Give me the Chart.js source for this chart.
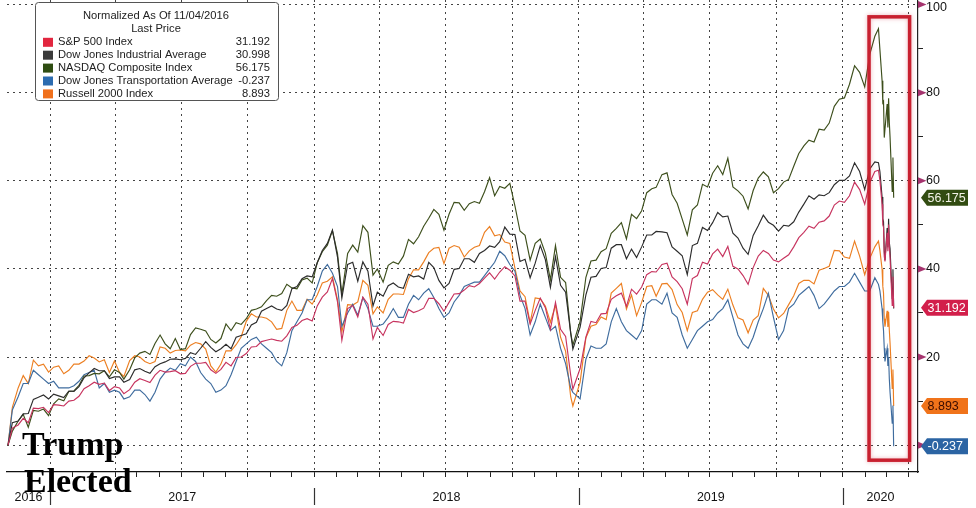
<!DOCTYPE html>
<html lang="en">
<head>
  <meta charset="UTF-8">
  <title>Normalized As Of 11/04/2016</title>
  <script src="https://cdn.jsdelivr.net/npm/chart.js"></script>
  <style>
    * { margin: 0; padding: 0; box-sizing: border-box; }
    body { background: #fff; width: 976px; height: 508px; overflow: hidden; }
    canvas { display: block; }
  </style>
</head>
<body>
  <canvas id="chart" width="976" height="508"></canvas>

  <script>
    // weekly sample dates, daily through the Feb/Mar 2020 selloff
    const dates = [
      '2016-11-04','2016-11-10','2016-11-18','2016-11-25','2016-12-02','2016-12-09','2016-12-16','2016-12-23','2016-12-30',
      '2017-01-06','2017-01-13','2017-01-20','2017-01-27','2017-02-03','2017-02-10','2017-02-17','2017-02-24','2017-03-03','2017-03-10','2017-03-17','2017-03-24','2017-03-31',
      '2017-04-07','2017-04-13','2017-04-21','2017-04-28','2017-05-05','2017-05-12','2017-05-19','2017-05-26','2017-06-02','2017-06-09','2017-06-16','2017-06-23','2017-06-30',
      '2017-07-07','2017-07-14','2017-07-21','2017-07-28','2017-08-04','2017-08-11','2017-08-18','2017-08-25','2017-09-01','2017-09-08','2017-09-15','2017-09-22','2017-09-29',
      '2017-10-06','2017-10-13','2017-10-20','2017-10-27','2017-11-03','2017-11-10','2017-11-17','2017-11-24','2017-12-01','2017-12-08','2017-12-15','2017-12-22','2017-12-29',
      '2018-01-05','2018-01-12','2018-01-19','2018-01-26','2018-02-02','2018-02-08','2018-02-16','2018-02-23','2018-03-02','2018-03-09','2018-03-16','2018-03-23','2018-03-29',
      '2018-04-06','2018-04-13','2018-04-20','2018-04-27','2018-05-04','2018-05-11','2018-05-18','2018-05-25','2018-06-01','2018-06-08','2018-06-15','2018-06-22','2018-06-29',
      '2018-07-06','2018-07-13','2018-07-20','2018-07-27','2018-08-03','2018-08-10','2018-08-17','2018-08-24','2018-08-31','2018-09-07','2018-09-14','2018-09-21','2018-09-28',
      '2018-10-05','2018-10-12','2018-10-19','2018-10-26','2018-11-02','2018-11-09','2018-11-16','2018-11-23','2018-11-30','2018-12-07','2018-12-14','2018-12-21','2018-12-24',
      '2019-01-03','2019-01-11','2019-01-18','2019-01-25','2019-02-01','2019-02-08','2019-02-15','2019-02-22','2019-03-01','2019-03-08','2019-03-15','2019-03-22','2019-03-29',
      '2019-04-05','2019-04-12','2019-04-18','2019-04-26','2019-05-03','2019-05-10','2019-05-17','2019-05-24','2019-05-31','2019-06-07','2019-06-14','2019-06-21','2019-06-28',
      '2019-07-05','2019-07-12','2019-07-19','2019-07-26','2019-08-02','2019-08-09','2019-08-16','2019-08-23','2019-08-30','2019-09-06','2019-09-13','2019-09-20','2019-09-27',
      '2019-10-04','2019-10-11','2019-10-18','2019-10-25','2019-11-01','2019-11-08','2019-11-15','2019-11-22','2019-11-29','2019-12-06','2019-12-13','2019-12-20','2019-12-27',
      '2020-01-03','2020-01-10','2020-01-17','2020-01-24','2020-01-31','2020-02-07','2020-02-14','2020-02-19','2020-02-21','2020-02-24','2020-02-25','2020-02-26','2020-02-27',
      '2020-02-28','2020-03-02','2020-03-03','2020-03-04','2020-03-05','2020-03-06','2020-03-09','2020-03-10','2020-03-11'
    ];

    // % change since 11/04/2016
    const spx = [
      0, 3.9, 4.6, 6.1, 5.1, 8.4, 8.3, 8.6, 7.4,
      9.2, 9.1, 8.9, 10.0, 10.2, 11.1, 12.8, 13.5, 14.3, 13.8, 14.1, 12.4, 13.3, 13.0, 11.7, 12.6, 14.3, 15.1, 14.7, 14.2, 15.9, 17.0, 16.6, 16.7, 16.9, 16.2,
      16.3, 17.9, 18.6, 18.6, 18.8, 17.1, 16.3, 17.2, 18.8, 18.0, 19.9, 20.0, 20.8, 22.3, 22.4, 23.5, 23.8, 24.1, 23.8, 23.6, 24.8, 26.7, 27.2, 28.3, 28.7, 28.2,
      31.6, 33.6, 34.8, 37.8, 32.5, 23.8, 31.0, 31.7, 29.1, 33.6, 32.0, 24.1, 26.7, 24.9, 27.4, 28.1, 28.0, 27.7, 30.8, 30.1, 30.5, 31.1, 33.3, 33.3, 32.1, 30.4,
      32.4, 34.3, 34.4, 35.2, 36.2, 35.9, 36.7, 37.9, 39.1, 37.7, 39.3, 40.5, 39.7, 38.4, 32.7, 32.7, 27.5, 30.6, 33.4, 31.2, 26.3, 32.4, 26.3, 24.7, 15.9, 12.7,
      17.4, 24.5, 28.1, 27.8, 29.8, 29.9, 33.1, 33.9, 34.5, 31.5, 35.4, 34.3, 35.9, 38.7, 39.4, 39.3, 41.0, 41.3, 38.2, 37.1, 35.5, 32.0, 37.8, 38.5, 41.5, 41.1,
      43.4, 44.5, 42.8, 45.1, 40.6, 40.0, 38.5, 36.5, 40.3, 42.9, 44.2, 43.5, 42.0, 41.6, 42.4, 43.2, 45.0, 47.1, 48.3, 49.7, 49.2, 50.6, 50.9, 52.0, 54.5, 55.4,
      55.1, 56.6, 59.7, 58.0, 54.7, 59.6, 62.1, 62.4, 60.1, 54.7, 50.0, 49.5, 42.9, 41.7, 48.2, 44.0, 50.1, 45.0, 42.5, 31.7, 38.2, 31.192
    ];
    const dji = [
      0, 5.1, 5.5, 7.1, 7.2, 10.4, 10.9, 11.4, 10.5,
      11.6, 11.2, 10.8, 12.3, 12.2, 13.3, 15.3, 16.4, 17.4, 16.9, 16.9, 15.1, 15.5, 15.5, 14.3, 14.9, 17.1, 17.4, 16.8, 16.3, 17.8, 18.5, 18.9, 19.5, 19.6, 19.4,
      19.7, 21.0, 20.6, 22.0, 23.5, 22.2, 21.2, 21.9, 22.9, 21.9, 24.5, 24.9, 25.3, 27.3, 27.9, 30.4, 31.0, 31.6, 30.9, 30.6, 31.7, 35.5, 36.0, 37.8, 38.4, 38.2,
      41.4, 44.2, 45.8, 48.8, 42.7, 33.4, 41.0, 41.5, 37.2, 41.6, 39.5, 31.6, 34.7, 33.8, 36.2, 36.8, 35.9, 35.6, 38.8, 38.2, 38.4, 37.7, 41.5, 40.3, 37.4, 35.7,
      36.7, 39.9, 40.1, 42.3, 42.3, 41.5, 43.5, 44.2, 45.2, 44.9, 46.2, 49.5, 47.9, 47.8, 41.7, 42.2, 38.0, 41.3, 45.3, 42.1, 35.8, 42.8, 36.3, 34.7, 25.5, 21.8,
      26.8, 34.1, 38.1, 38.3, 40.1, 40.3, 44.7, 45.5, 45.5, 42.3, 44.5, 42.6, 45.0, 47.7, 47.7, 48.5, 48.4, 48.2, 45.0, 44.0, 43.0, 38.7, 45.3, 45.8, 49.4, 48.7,
      50.5, 52.8, 51.8, 52.0, 48.1, 47.0, 44.7, 43.3, 47.6, 49.8, 52.2, 50.6, 49.9, 48.6, 49.9, 49.7, 50.7, 52.9, 54.7, 56.6, 55.8, 56.8, 56.6, 57.3, 59.1, 60.1,
      60.1, 61.1, 64.1, 62.1, 58.0, 62.7, 64.3, 64.1, 62.1, 56.3, 51.4, 50.7, 44.0, 42.0, 49.3, 44.9, 51.4, 46.0, 44.6, 33.3, 39.9, 30.998
    ];
    const ccmp = [
      0, 3.2, 5.5, 7.0, 4.1, 7.9, 7.7, 8.2, 6.7,
      9.4, 10.5, 10.1, 12.2, 12.3, 13.6, 15.7, 15.8, 16.3, 16.2, 16.9, 15.5, 17.1, 16.5, 15.0, 17.1, 19.8, 20.9, 21.3, 20.6, 23.1, 25.0, 23.0, 21.9, 24.2, 21.7,
      21.9, 25.1, 26.6, 26.3, 25.9, 24.0, 23.2, 24.2, 27.5, 26.0, 27.8, 27.4, 28.7, 30.6, 30.9, 31.4, 32.8, 34.0, 33.8, 34.4, 36.5, 35.7, 35.5, 37.5, 37.9, 36.8,
      41.4, 43.9, 45.4, 48.7, 43.5, 34.3, 43.5, 45.4, 43.8, 49.8, 48.3, 38.6, 40.0, 37.0, 40.8, 41.6, 41.1, 42.9, 46.7, 45.7, 47.3, 49.7, 51.5, 53.5, 52.4, 48.8,
      52.4, 55.1, 55.0, 53.3, 54.8, 55.3, 54.9, 57.5, 60.7, 56.6, 58.7, 58.3, 59.4, 54.3, 48.6, 47.6, 42.0, 45.8, 46.8, 43.6, 37.5, 45.3, 38.1, 36.9, 25.5, 22.7,
      28.1, 38.1, 41.8, 42.0, 43.9, 44.6, 48.1, 49.2, 50.5, 46.8, 52.4, 51.4, 53.2, 57.3, 58.2, 58.5, 61.4, 61.8, 56.9, 54.9, 51.3, 47.7, 53.4, 54.5, 59.2, 58.6,
      61.7, 63.4, 61.4, 65.1, 58.6, 57.7, 56.5, 53.6, 57.8, 60.6, 62.0, 60.9, 57.3, 58.2, 59.7, 60.3, 63.3, 66.2, 67.9, 69.2, 68.8, 71.7, 71.5, 73.1, 76.9, 78.5,
      78.8, 81.9, 86.1, 84.6, 81.3, 88.7, 92.8, 94.5, 89.8, 82.7, 77.7, 78.0, 69.8, 69.8, 77.4, 72.1, 78.7, 73.2, 69.9, 57.6, 65.3, 56.175
    ];
    const tran = [
      0, 8, 11, 14, 14, 17, 16, 15, 14,
      14.5, 13, 13, 13, 13.5, 14.5, 16, 16.5, 17, 13, 14, 12, 12.5, 12, 10.5, 11, 12.5, 12.5, 11.5, 10, 12, 15, 16.5, 17.5, 17, 18.5,
      18, 20, 19, 16.5, 15, 14, 12, 12.5, 13.5, 16, 19, 22, 23, 24, 24.5, 23, 22, 21, 19, 18, 21, 26, 28, 30, 33, 33,
      36, 39.5, 41, 39, 36, 27, 30, 32, 29.5, 33.5, 31, 27, 27, 27.5, 29, 31, 29, 29, 32, 34, 33, 34.5, 35.5, 33.5, 31, 29,
      30, 32.5, 34, 36, 36.5, 37, 37, 38.5, 40, 41.5, 44, 43, 41, 39.5, 34, 31, 25, 28, 32, 29, 26, 27, 22, 18.5, 13, 12,
      10.5, 19.5, 22.5, 22, 22, 23, 28, 31, 28, 26, 25, 24, 26, 32, 33, 33, 32, 34.5, 30, 29, 25, 22, 24, 26, 27, 28,
      28.5, 30, 31, 33, 29, 25, 23, 22, 24.5, 28, 31, 34.5, 29, 24, 26, 31, 32, 34, 35, 36, 34, 31, 32, 33.5, 35, 36,
      36, 37, 39, 37, 35, 35, 38, 36.5, 35, 31, 28, 26, 22, 19, 22, 18, 20, 15, 12, 5, 9, -0.237
    ];
    const rty = [
      0, 8.6, 13.0, 15.8, 14.0, 19.3, 18.0, 18.4, 16.6,
      17.7, 18.0, 16.2, 17.0, 18.4, 18.4, 19.1, 20.3, 19.8, 18.9, 19.4, 16.5, 19.1, 16.5, 15.6, 19.2, 20.3, 20.0, 19.0, 18.5, 19.0, 22.3, 22.0, 20.9, 21.5, 21.6,
      21.4, 22.7, 23.3, 23.0, 21.8, 18.0, 16.6, 18.4, 21.4, 21.4, 22.8, 24.6, 28.1, 29.8, 29.1, 29.1, 28.8, 28.0, 26.3, 26.5, 30.6, 32.7, 30.6, 30.6, 33.1, 32.0,
      34.1, 36.8, 37.2, 38.2, 33.0, 25.7, 31.9, 31.8, 32.5, 37.4, 36.3, 29.8, 31.4, 30.0, 33.1, 34.3, 34.3, 34.2, 37.8, 39.8, 39.8, 41.6, 43.7, 44.7, 44.9, 41.2,
      44.7, 45.3, 44.9, 42.7, 44.1, 44.9, 45.3, 48.3, 49.6, 47.5, 47.8, 46.1, 45.8, 40.2, 35.0, 33.7, 27.8, 33.4, 33.2, 31.6, 27.9, 31.8, 24.5, 21.3, 11.0, 8.9,
      14.3, 24.4, 27.0, 27.4, 29.1, 28.5, 34.5, 35.6, 36.7, 30.9, 34.1, 29.4, 32.4, 36.0, 36.2, 33.8, 36.6, 36.7, 35.3, 31.9, 30.1, 26.0, 30.1, 30.5, 33.1, 34.7,
      35.3, 34.1, 33.1, 35.4, 31.8, 28.9, 28.4, 25.5, 28.4, 29.4, 35.6, 34.0, 30.9, 28.9, 29.9, 31.9, 33.9, 36.7, 37.4, 37.4, 36.6, 39.7, 40.1, 40.6, 44.2, 44.1,
      42.7, 42.4, 46.3, 42.9, 38.7, 42.4, 45.0, 46.3, 44.2, 39.9, 36.1, 34.5, 28.7, 26.9, 30.5, 26.8, 30.2, 26.1, 23.2, 12.9, 17.2, 8.893
    ];

    const seriesNames = ['S&P 500 Index', 'Dow Jones Industrial Average', 'NASDAQ Composite Index', 'Dow Jones Transportation Average', 'Russell 2000 Index'];
    const yearLabels = ['2016', '2017', '2018', '2019', '2020'];
    const yTickValues = [0, 10, 20, 30, 40, 50, 60, 70, 80, 90, 100];

    // ---- helpers ----
    const BASE = Date.UTC(2016, 10, 4);
    function dayOf(s) {
      const [y, m, d] = s.split('-').map(Number);
      return (Date.UTC(y, m - 1, d) - BASE) / 86400000;
    }
    const xs = dates.map(dayOf);
    const toPoints = arr => arr.map((v, i) => ({ x: xs[i], y: v }));

    const X_MIN = -1.4, X_MAX = 1256.6;
    const Y_MIN = -6.08, Y_MAX = 101.02;
    const Y_TOP_TICK = 100;

    // monthly tick marks, quarters get the dotted grid
    const monthTicks = [], quarterTicks = new Set();
    for (let y = 2016; y <= 2020; y++) {
      for (let m = 0; m < 12; m++) {
        const d = (Date.UTC(y, m, 1) - BASE) / 86400000;
        if (d > X_MIN && d < X_MAX) {
          monthTicks.push(d);
          if (m % 3 === 0) quarterTicks.add(d);
        }
      }
    }
    const yearStarts = yearLabels.slice(1).map(y => dayOf(y + '-01-01'));
    const yearMid = new Map();
    yearLabels.forEach(lab => {
      const s = Math.max(X_MIN, dayOf(lab + '-01-01'));
      const e = Math.min(X_MAX, dayOf((+lab + 1) + '-01-01'));
      yearMid.set((s + e) / 2, lab);
    });
    const xTickValues = monthTicks.concat([...yearMid.keys()]).sort((a, b) => a - b);

    const styles = [
      { line: '#c7345f', swatch: '#e2263f', badge: '#d21f4b', text: '#ffffff' },
      { line: '#2c2c2c', swatch: '#3b3b3b', badge: null, text: null },
      { line: '#3d4f1c', swatch: '#2f4d12', badge: '#324c12', text: '#f4f4e8' },
      { line: '#3f6c9e', swatch: '#2c6cb0', badge: '#2b64a3', text: '#ffffff' },
      { line: '#ec7f22', swatch: '#f0701c', badge: '#f0731a', text: '#3a0c00' }
    ];
    const allSeries = [spx, dji, ccmp, tran, rty];

    const TRANSP = 'rgba(0,0,0,0)';
    const AXIS_FONT = { family: 'Liberation Sans', size: 12.5 };
    // the top label sits a little lower so it stays inside the picture
    const TOP_LABEL_FONT = { family: 'Liberation Sans', size: 12.5, lineHeight: 0.56 };

    const overlay = {
      id: 'overlay',
      afterDraw(chart) {
        const { ctx, chartArea: a, scales: { x, y } } = chart;
        ctx.save();

        // year separators below the axis
        ctx.strokeStyle = '#333';
        ctx.lineWidth = 1.2;
        yearStarts.forEach(d => {
          const px = Math.round(x.getPixelForValue(d)) + 0.5;
          ctx.beginPath();
          ctx.moveTo(px, a.bottom + 16);
          ctx.lineTo(px, a.bottom + 33);
          ctx.stroke();
        });

        // triangles on the major y ticks
        ctx.fillStyle = '#a5346e';
        yTickValues.filter(v => v % 20 === 0).forEach(v => {
          const py = y.getPixelForValue(v);
          ctx.beginPath();
          ctx.moveTo(a.right, py - 3.5);
          ctx.lineTo(a.right + 8.5, py);
          ctx.lineTo(a.right, py + 3.5);
          ctx.closePath();
          ctx.fill();
        });

        // highlight box around the selloff
        const bx0 = x.getPixelForValue(dayOf('2020-02-06'));
        const bx1 = x.getPixelForValue(dayOf('2020-04-02'));
        const by0 = y.getPixelForValue(97.2);
        const by1 = y.getPixelForValue(-3.4);
        ctx.shadowColor = 'rgba(200,30,50,0.35)';
        ctx.shadowBlur = 4;
        ctx.strokeStyle = '#c8202f';
        ctx.lineWidth = 3.5;
        ctx.strokeRect(bx0, by0, bx1 - bx0, by1 - by0);
        ctx.shadowBlur = 0;
        ctx.shadowColor = 'transparent';

        // last value badges
        ctx.font = '12.5px "Liberation Sans"';
        ctx.textBaseline = 'middle';
        ctx.textAlign = 'left';
        allSeries.forEach((arr, i) => {
          const st = styles[i];
          if (!st.badge) return;
          const v = arr[arr.length - 1];
          const py = y.getPixelForValue(v);
          const x0 = a.right + 3, x1 = a.right + 9, x2 = a.right + 50, h = 16;
          ctx.fillStyle = st.badge;
          ctx.beginPath();
          ctx.moveTo(x0, py);
          ctx.lineTo(x1, py - h / 2);
          ctx.lineTo(x2, py - h / 2);
          ctx.lineTo(x2, py + h / 2);
          ctx.lineTo(x1, py + h / 2);
          ctx.closePath();
          ctx.fill();
          ctx.fillStyle = st.text;
          ctx.fillText(v.toFixed(3), x1 + 0.5, py + 0.5);
        });

        // legend box
        const lx = 35.5, ly = 2.5, lw = 243, lh = 98;
        ctx.fillStyle = '#ffffff';
        ctx.strokeStyle = '#555';
        ctx.lineWidth = 1;
        ctx.beginPath();
        ctx.roundRect(lx, ly, lw, lh, 3);
        ctx.fill();
        ctx.stroke();

        ctx.fillStyle = '#222';
        ctx.font = '11.2px "Liberation Sans"';
        ctx.textAlign = 'center';
        ctx.fillText('Normalized As Of 11/04/2016', 156, 16);
        ctx.fillText('Last Price', 156, 29);
        seriesNames.forEach((name, i) => {
          const ry = 42.3 + i * 12.9;
          ctx.fillStyle = styles[i].swatch;
          ctx.fillRect(43, ry - 4.5, 10, 9);
          ctx.fillStyle = '#222';
          ctx.textAlign = 'left';
          ctx.fillText(name, 58, ry);
          ctx.textAlign = 'right';
          const arr = allSeries[i];
          ctx.fillText(arr[arr.length - 1].toFixed(3), 270, ry);
        });

        // annotation
        ctx.fillStyle = '#000';
        ctx.textAlign = 'left';
        ctx.textBaseline = 'alphabetic';
        ctx.font = 'bold 34px "Liberation Serif"';
        ctx.fillText('Trump', 22, 455);
        ctx.fillText('Elected', 24, 492);

        ctx.restore();
      }
    };

    new Chart(document.getElementById('chart'), {
      type: 'line',
      data: {
        datasets: allSeries.map((arr, i) => ({
          label: seriesNames[i],
          data: toPoints(arr),
          borderColor: styles[i].line,
          borderWidth: 1.15,
          pointRadius: 0,
          tension: 0,
          fill: false
        }))
      },
      options: {
        responsive: false,
        animation: false,
        layout: { padding: { left: 7, top: 0, right: 0, bottom: 0 } },
        plugins: { legend: { display: false }, tooltip: { enabled: false } },
        scales: {
          x: {
            type: 'linear',
            min: X_MIN,
            max: X_MAX,
            afterBuildTicks: s => { s.ticks = xTickValues.map(v => ({ value: v })); },
            afterFit: s => { s.height = 36; s.paddingLeft = 0; s.paddingRight = 0; },
            grid: {
              color: c => (c.tick && quarterTicks.has(c.tick.value)) ? '#444' : TRANSP,
              lineWidth: 1,
              tickLength: 5,
              tickColor: c => (c.tick && yearMid.has(c.tick.value)) ? TRANSP : '#222',
              tickBorderDash: []
            },
            border: { display: true, color: '#111', width: 1.2, dash: [2, 4] },
            ticks: {
              autoSkip: false,
              maxRotation: 0,
              minRotation: 0,
              padding: 13,
              color: '#111',
              font: AXIS_FONT,
              callback: v => yearMid.get(v) || ''
            }
          },
          y: {
            position: 'right',
            min: Y_MIN,
            max: Y_MAX,
            afterBuildTicks: s => { s.ticks = yTickValues.map(v => ({ value: v })); },
            afterFit: s => { s.width = 58; s.paddingTop = 0; s.paddingBottom = 0; },
            grid: {
              color: c => (c.tick && c.tick.value % 20 === 0) ? '#444' : TRANSP,
              lineWidth: 1,
              tickLength: 5,
              tickColor: c => (c.tick && c.tick.value % 20 === 0) ? TRANSP : '#222',
              tickBorderDash: []
            },
            border: { display: true, color: '#222', width: 1.2, dash: [2, 4] },
            ticks: {
              padding: 3,
              color: '#111',
              font: c => (c.tick && c.tick.value === Y_TOP_TICK) ? TOP_LABEL_FONT : AXIS_FONT,
              callback: v => {
                if (v === Y_TOP_TICK) return ['', String(v)];
                return (v > 0 && v % 20 === 0) ? String(v) : '';
              }
            }
          }
        }
      },
      plugins: [overlay]
    });
  </script>
</body>
</html>
